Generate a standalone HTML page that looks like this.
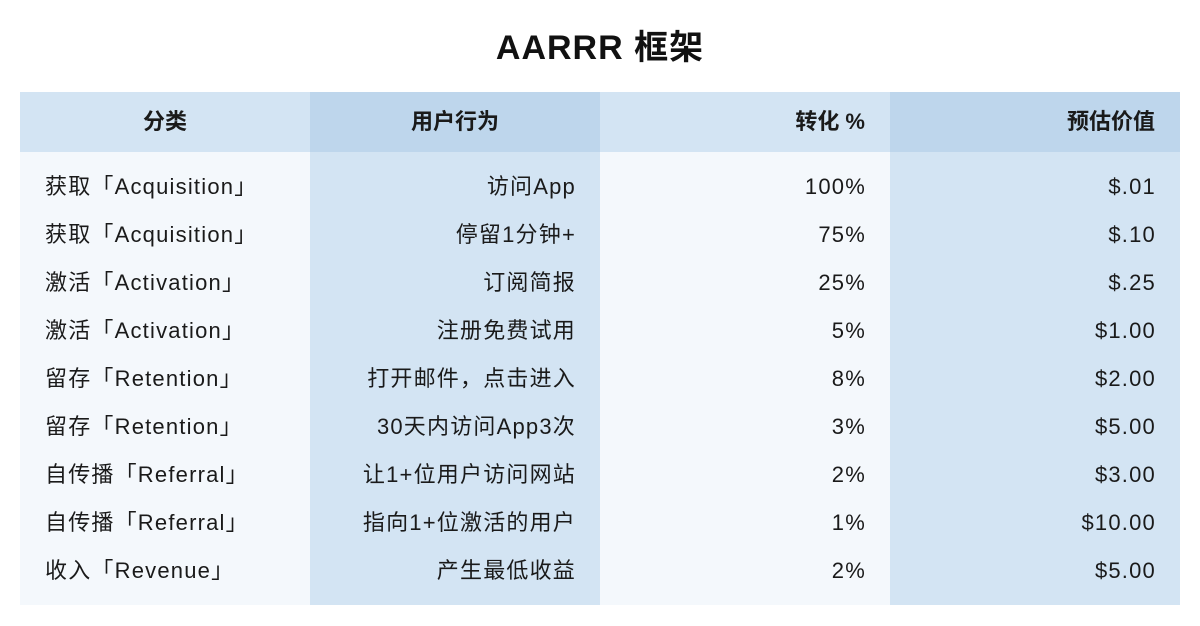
<!DOCTYPE html>
<html><head><meta charset="utf-8"><style>
body{margin:0;width:1200px;height:626px;background:#fff;font-family:"Liberation Sans","Noto Sans CJK SC",sans-serif;color:#1a1a1a;overflow:hidden;position:relative}
h1{position:absolute;top:24px;left:0;width:1200px;text-align:center;margin:0;font-size:34px;font-weight:bold;line-height:48px;color:#111;letter-spacing:1px}
.col{position:absolute;top:92px;width:290px;height:513px}
.hd{height:60px;line-height:60px;font-size:22px;font-weight:bold;padding:0 25px}
.bd{padding-top:11px}
.r{height:48px;line-height:48px;font-size:22px;padding:0 25px;white-space:nowrap;letter-spacing:1.2px}
.right .r{padding-right:24px}
.light .hd{background:#d3e4f3}.light .bd{background:#f4f8fc;height:442px}
.dark .hd{background:#bed6ec}.dark .bd{background:#d3e4f3;height:442px}
.right{text-align:right}.center{text-align:center}
</style></head><body>
<h1>AARRR 框架</h1>
<div class="col light" style="left:20px">
<div class="hd center">分类</div>
<div class="bd">
<div class="r">获取「Acquisition」</div>
<div class="r">获取「Acquisition」</div>
<div class="r">激活「Activation」</div>
<div class="r">激活「Activation」</div>
<div class="r">留存「Retention」</div>
<div class="r">留存「Retention」</div>
<div class="r">自传播「Referral」</div>
<div class="r">自传播「Referral」</div>
<div class="r">收入「Revenue」</div>
</div></div>
<div class="col dark" style="left:310px">
<div class="hd center">用户行为</div>
<div class="bd right">
<div class="r">访问App</div>
<div class="r">停留1分钟+</div>
<div class="r">订阅简报</div>
<div class="r">注册免费试用</div>
<div class="r">打开邮件，点击进入</div>
<div class="r">30天内访问App3次</div>
<div class="r">让1+位用户访问网站</div>
<div class="r">指向1+位激活的用户</div>
<div class="r">产生最低收益</div>
</div></div>
<div class="col light" style="left:600px">
<div class="hd right">转化 %</div>
<div class="bd right">
<div class="r">100%</div>
<div class="r">75%</div>
<div class="r">25%</div>
<div class="r">5%</div>
<div class="r">8%</div>
<div class="r">3%</div>
<div class="r">2%</div>
<div class="r">1%</div>
<div class="r">2%</div>
</div></div>
<div class="col dark" style="left:890px">
<div class="hd right">预估价值</div>
<div class="bd right">
<div class="r">$.01</div>
<div class="r">$.10</div>
<div class="r">$.25</div>
<div class="r">$1.00</div>
<div class="r">$2.00</div>
<div class="r">$5.00</div>
<div class="r">$3.00</div>
<div class="r">$10.00</div>
<div class="r">$5.00</div>
</div></div>
</body></html>
